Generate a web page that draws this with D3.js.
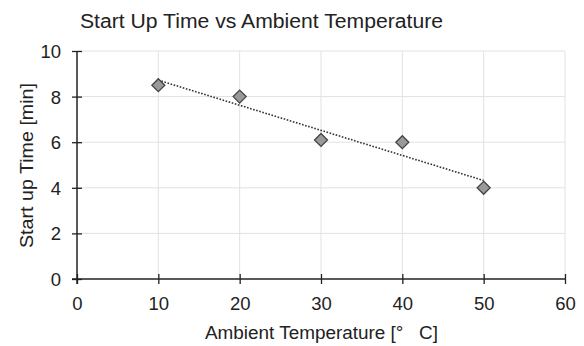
<!DOCTYPE html>
<html>
<head>
<meta charset="utf-8">
<script src="https://cdn.jsdelivr.net/npm/d3@7"></script>
<style>
  body { margin: 0; background: #fff; }
  svg { font-family: "Liberation Sans", Arial, sans-serif; }
</style>
</head>
<body>
<svg id="chart" width="584" height="346"></svg>
<script>
// data
const temps = [10, 20, 30, 40, 50];
const startTimes = [8.5, 8.0, 6.1, 6.0, 4.0];
// dotted trend line end points (as drawn)
const trendX = [10, 50];
const trendY = [8.72, 4.32];
const xTicks = [0, 10, 20, 30, 40, 50, 60];
const yTicks = [0, 2, 4, 6, 8, 10];

const svg = d3.select("#chart");

const x = d3.scaleLinear().domain([0, 60]).range([77, 565]);
const y = d3.scaleLinear().domain([0, 10]).range([279, 51]);

// grid
svg.append("g")
  .selectAll("line")
  .data(xTicks.slice(1))
  .join("line")
  .attr("x1", d => x(d)).attr("x2", d => x(d))
  .attr("y1", y(0)).attr("y2", y(10))
  .attr("stroke", "#e2e2e2").attr("stroke-width", 1);

svg.append("g")
  .selectAll("line")
  .data(yTicks.slice(1))
  .join("line")
  .attr("x1", x(0)).attr("x2", x(60))
  .attr("y1", d => y(d)).attr("y2", d => y(d))
  .attr("stroke", "#e2e2e2").attr("stroke-width", 1);

// axes
const xAxis = d3.axisBottom(x).tickValues(xTicks).tickSize(0).tickPadding(0);
const gx = svg.append("g").attr("transform", `translate(0,${y(0)})`).call(xAxis);
gx.select(".domain").remove();
gx.selectAll(".tick text").attr("y", 31).attr("dy", 0)
  .style("font-size", "18.5px").attr("fill", "#222")
  .attr("font-family", "Liberation Sans, Arial, sans-serif");
gx.selectAll(".tick").append("line")
  .attr("y1", -5).attr("y2", 5).attr("stroke", "#222").attr("stroke-width", 1.3);
gx.append("line").attr("x1", x(0) - 5).attr("x2", x(60))
  .attr("stroke", "#222").attr("stroke-width", 1.5);

const yAxis = d3.axisLeft(y).tickValues(yTicks).tickSize(0).tickPadding(0);
const gy = svg.append("g").attr("transform", `translate(${x(0)},0)`).call(yAxis);
gy.select(".domain").remove();
gy.selectAll(".tick text").attr("x", -16).attr("dy", "0.35em")
  .style("font-size", "18.5px").attr("fill", "#222")
  .attr("font-family", "Liberation Sans, Arial, sans-serif");
gy.selectAll(".tick").append("line")
  .attr("x1", -5).attr("x2", 5).attr("stroke", "#222").attr("stroke-width", 1.3);
gy.append("line").attr("y1", y(0) + 5).attr("y2", y(10))
  .attr("stroke", "#222").attr("stroke-width", 1.5);

// trend line
svg.append("path")
  .datum(trendX.map((d, i) => [d, trendY[i]]))
  .attr("d", d3.line().x(d => x(d[0])).y(d => y(d[1])))
  .attr("fill", "none")
  .attr("stroke", "#333")
  .attr("stroke-width", 1.6)
  .attr("stroke-dasharray", "1.6,1.6");

// markers
const pts = temps.map((t, i) => ({ t, v: startTimes[i] }));
svg.append("g")
  .selectAll("path")
  .data(pts)
  .join("path")
  .attr("transform", d => `translate(${x(d.t)},${y(d.v)})`)
  .attr("d", "M0,-6.5L6.5,0L0,6.5L-6.5,0Z")
  .attr("fill", "#999")
  .attr("stroke", "#444")
  .attr("stroke-width", 1.3);

// texts
svg.append("text")
  .attr("x", 80).attr("y", 28)
  .attr("textLength", 363).attr("lengthAdjust", "spacingAndGlyphs")
  .style("font-size", "19.5px").attr("fill", "#222")
  .text("Start Up Time vs Ambient Temperature");

svg.append("text")
  .attr("x", 205).attr("y", 339)
  .attr("textLength", 233).attr("lengthAdjust", "spacingAndGlyphs")
  .style("font-size", "17.5px").attr("fill", "#222")
  .style("white-space", "pre")
  .text("Ambient Temperature [\u00B0   C]");

svg.append("text")
  .attr("transform", "translate(33,248) rotate(-90)")
  .attr("textLength", 165).attr("lengthAdjust", "spacingAndGlyphs")
  .style("font-size", "17.5px").attr("fill", "#222")
  .text("Start up Time [min]");
</script>
</body>
</html>
